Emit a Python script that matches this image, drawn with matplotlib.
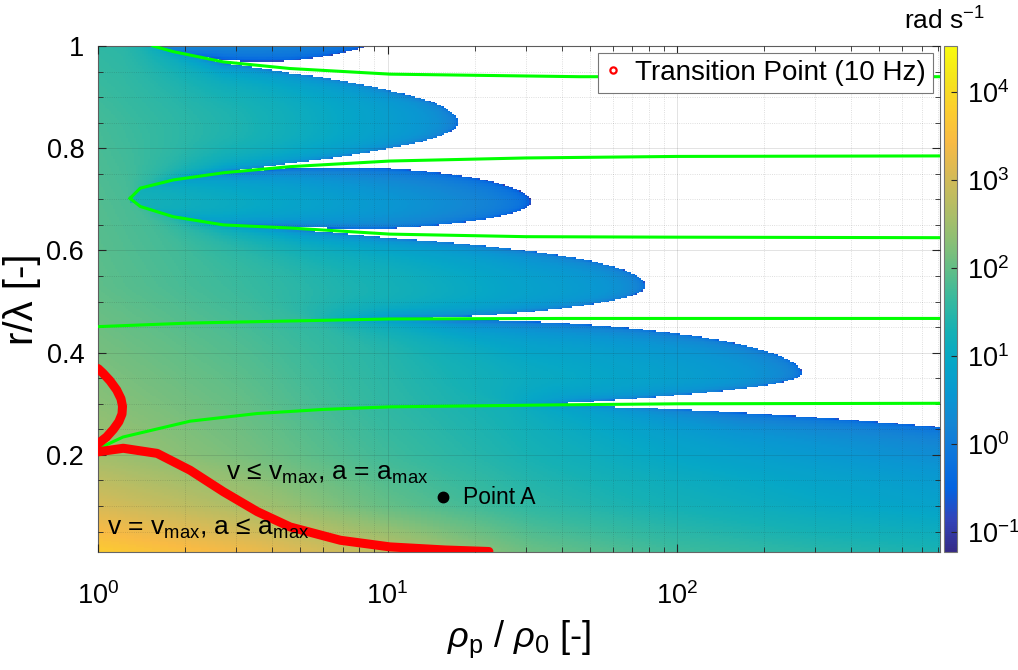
import numpy as np
import matplotlib
matplotlib.use("Agg")
import matplotlib.pyplot as plt
from matplotlib.colors import LinearSegmentedColormap, LogNorm
from matplotlib.lines import Line2D

plt.rcParams['font.family'] = ['Liberation Sans', 'DejaVu Sans']
plt.rcParams['mathtext.fontset'] = 'custom'
plt.rcParams['mathtext.rm'] = 'Liberation Sans'
plt.rcParams['mathtext.it'] = 'Liberation Sans:italic'
plt.rcParams['axes.unicode_minus'] = False

# ---- axes ranges / colour range ----
x_max = 810.0
y_min, y_max = 0.01, 1.0
c_min, c_max = 0.059, 3.3e4

# ---- green curves ----
green_a_x = [1.0, 1.22, 2.08, 3.55, 6.0, 10.2, 40.0, 100.0, 810.0]
green_a_y = [0.212, 0.235, 0.266, 0.281, 0.289, 0.294, 0.298, 0.300, 0.301]
green_b_x = [1.0, 2.08, 4.6, 10.2, 40.0, 100.0, 810.0]
green_b_y = [0.451, 0.458, 0.462, 0.466, 0.467, 0.467, 0.467]
green_c_x = [1.29, 1.40, 1.82, 2.71, 4.6, 10.2, 30.0, 100.0, 810.0]
green_c_y = [0.702, 0.686, 0.666, 0.650, 0.644, 0.632, 0.627, 0.626, 0.625]
green_d_x = [1.29, 1.40, 1.82, 2.71, 4.6, 10.2, 30.0, 100.0, 810.0]
green_d_y = [0.702, 0.722, 0.738, 0.752, 0.764, 0.775, 0.781, 0.784, 0.785]
green_e_x = [1.0, 1.26, 1.55, 1.82, 2.71, 4.6, 10.2, 46.0, 810.0]
green_e_y = [1.06, 1.03, 1.0, 0.989, 0.969, 0.956, 0.945, 0.940, 0.940]

# ---- red transition-point curves ----
red_top_x = [1.0, 1.04, 1.10, 1.16, 1.20, 1.215, 1.21, 1.18, 1.13, 1.07, 1.0]
red_top_y = [0.369, 0.360, 0.345, 0.327, 0.310, 0.295, 0.280, 0.265, 0.250, 0.235, 0.222]
red_bot_x = [1.0, 1.222, 1.6, 2.08, 2.71, 3.55, 4.61, 6.87, 10.2, 15.8, 22.4]
red_bot_y = [0.206, 0.213, 0.203, 0.170, 0.128, 0.089, 0.059, 0.033, 0.020, 0.014, 0.011]

point_a = (15.6, 0.117)

# ---- stable lobes: centre heights, tip positions, gap tips ----
lobe_y = [0.13, 0.36, 0.53, 0.695, 0.85, 1.12]
lobe_tip_x = [12600.0, 269.0, 77.6, 31.3, 17.6, 15.5]
lobe_shift = [0.0, 0.0, 0.0, -0.5, 0.0, -0.7]   # detached lobes sit lower
gap_tip_x = [25.7, 5.25, 1.32, 1.26, 1.2, 1.0]
gap_power = [3.0, 6.0, 6.0, 6.0, 6.0, 6.0]
gap_top_y = 1.25

# ---- colour field, log10(rad/s), read at a coarse set of points ----
tab_x = [1.0, 3.16, 10.0, 31.6, 100.0, 316.0, 810.0]
tab_y = [0.01, 0.1, 0.2, 0.3, 0.4, 0.53, 0.7, 0.85, 1.0]
tab_log = [
    [3.75, 3.35, 2.75, 2.05, 1.70, 1.50, 1.38],
    [3.05, 2.60, 2.00, 1.55, 1.25, 1.00, 0.85],
    [2.50, 2.15, 1.70, 1.30, 0.95, 0.70, 0.50],
    [2.30, 2.00, 1.55, 1.15, 0.85, 0.60, 0.45],
    [2.15, 1.85, 1.45, 0.95, 0.70, 0.50, 0.40],
    [1.95, 1.65, 1.25, 0.80, 0.55, 0.40, 0.30],
    [1.85, 1.50, 1.05, 0.65, 0.40, 0.30, 0.20],
    [1.75, 1.35, 0.75, 0.35, 0.20, 0.10, 0.10],
    [1.55, 1.30, 0.95, 0.50, 0.30, 0.20, 0.10]]

parula_rgb = [
    [0.2081, 0.1663, 0.5292], [0.1959, 0.2645, 0.7279], [0.0117, 0.3875, 0.8820],
    [0.0498, 0.4586, 0.8641], [0.0793, 0.5200, 0.8312], [0.0343, 0.5966, 0.8199],
    [0.0228, 0.6535, 0.7768], [0.0843, 0.6928, 0.7062], [0.2178, 0.7250, 0.6193],
    [0.3953, 0.7459, 0.5244], [0.5709, 0.7485, 0.4494], [0.7184, 0.7411, 0.3905],
    [0.8507, 0.7299, 0.3360], [0.9739, 0.7314, 0.2666], [0.9880, 0.8066, 0.1794],
    [0.9589, 0.8949, 0.1132], [0.9763, 0.9831, 0.0538]]
parula = LinearSegmentedColormap.from_list('parula', parula_rgb, N=256)

# ---- build the field ----
s_grid = np.linspace(0, np.log10(x_max), 430)
y_grid = np.linspace(y_min, y_max, 340)
S, Y = np.meshgrid(s_grid, y_grid)

greens = [(green_a_x, green_a_y), (green_b_x, green_b_y), (green_c_x, green_c_y),
          (green_d_x, green_d_y), (green_e_x, green_e_y)]
g = [np.interp(S, np.log10(gx), gy) for gx, gy in greens]
g[2] = np.minimum(g[2], lobe_y[3] - 0.004)
g[3] = np.maximum(g[3], lobe_y[3] + 0.004)

knots = []
for k in range(5):
    knots.append(np.full_like(S, lobe_y[k]))
    knots.append(g[k])
knots.append(np.full_like(S, lobe_y[5]))
knots.append(np.full_like(S, gap_top_y))
th_knots = np.arange(len(knots)) * 0.5 - 0.5

theta = np.where(Y < knots[0], -0.5, th_knots[-1])
for i in range(len(knots) - 1):
    lo, hi = knots[i], knots[i + 1]
    sel = (Y >= lo) & (Y < hi)
    theta = np.where(sel, th_knots[i] + 0.5 * (Y - lo) / (hi - lo), theta)

gap_idx = np.arange(len(gap_tip_x))
gt = np.interp(theta, gap_idx, np.log10(gap_tip_x))
pw = np.interp(theta, gap_idx, gap_power)
j = np.clip(np.floor(theta).astype(int), -1, 4)
ft = np.log10(lobe_tip_x)[j + 1]
t = np.clip((S - gt) / (ft - gt), 0, 1)
h = -1 + 2 * t ** pw
K = -np.cos(2 * np.pi * theta) - h

# coarse table -> grid (y first, then along x)
tab = np.array([[np.interp(yy, tab_y, np.array(tab_log)[:, c]) for c in range(len(tab_x))]
                for yy in y_grid])
L = np.array([np.interp(s_grid, np.log10(tab_x), row) for row in tab])

island = np.zeros_like(S)
loop_s = np.log10(green_c_x[0])
island = np.where((theta > 2) & (theta < 3) & (S > loop_s), lobe_shift[3], island)
island = np.where((theta > 4) & (S > np.log10(1.4)), lobe_shift[5], island)
L = L + island
L = L + 0.45 * np.log10(np.clip(K / 2, 1e-3, 1)) * np.clip(t / 0.3, 0, 1)
Z = np.ma.masked_where(K <= 0, 10 ** L)

# ---- figure ----
fig = plt.figure(figsize=(10.18, 6.70), dpi=100)
ax = fig.add_axes([0.0963, 0.1761, 0.8271, 0.7552])
norm = LogNorm(vmin=c_min, vmax=c_max)
mesh = ax.pcolormesh(10 ** s_grid, y_grid, Z, cmap=parula, norm=norm, shading='nearest')

for gx, gy in greens:
    ax.plot(gx, gy, color='#00ff00', lw=2.2, zorder=3)

ax.plot(red_top_x, red_top_y, color='red', lw=6.5, solid_capstyle='round', zorder=4)
ax.plot(red_bot_x, red_bot_y, color='red', lw=6.5, solid_capstyle='round', zorder=4)
ax.plot(*point_a, 'o', color='black', ms=7.5, zorder=5)

ax.text(18.2, 0.117, 'Point A', fontsize=16.5, va='center', ha='left', zorder=5)
ax.text(2.77, 0.151, r'v ≤ v$_{\mathrm{max}}$, a = a$_{\mathrm{max}}$', fontsize=19,
        va='baseline', ha='left', zorder=5)
ax.text(1.075, 0.043, r'v = v$_{\mathrm{max}}$, a ≤ a$_{\mathrm{max}}$', fontsize=19,
        va='baseline', ha='left', zorder=5)

ax.set_xscale('log')
ax.set_xlim(1, x_max)
ax.set_ylim(y_min, y_max)
ax.set_yticks([0.2, 0.4, 0.6, 0.8, 1.0])
ax.set_yticklabels(['0.2', '0.4', '0.6', '0.8', '1'])
ax.set_yticks(np.arange(0.05, 1.0, 0.05), minor=True)
ax.set_axisbelow(False)
ax.grid(True, which='major', color='#262626', alpha=0.15, lw=0.6)
ax.grid(True, which='minor', color='#262626', alpha=0.2, lw=0.6, ls=':')
ax.tick_params(which='both', direction='in', top=True, right=True, labelsize=19.5,
               color='#262626')
ax.tick_params(which='major', length=6, width=0.8)
ax.tick_params(which='minor', length=3.5, width=0.6)
ax.tick_params(axis='x', pad=22)
ax.tick_params(axis='y', pad=10)
for sp in ax.spines.values():
    sp.set_color('#666666')
    sp.set_linewidth(0.8)

ax.set_xlabel(r'$\rho_\mathrm{p}$ / $\rho_0$ [-]', fontsize=26, labelpad=6)
ax.set_ylabel(r'r/λ [-]', fontsize=29, labelpad=4)

handle = Line2D([], [], marker='o', ls='none', mfc='none', mec='red', ms=4.5, mew=1.6,
                label='Transition Point (10 Hz)')
leg = ax.legend(handles=[handle], loc='upper right', fontsize=20, frameon=True,
                fancybox=False, edgecolor='#777777', framealpha=1, borderpad=0.25,
                handlelength=0.6, handletextpad=0.5, borderaxespad=0.25)
leg.get_frame().set_linewidth(0.8)
leg.set_zorder(6)

cax = fig.add_axes([0.9273, 0.1761, 0.0128, 0.7552])
cb = fig.colorbar(mesh, cax=cax)
cb.ax.minorticks_off()
cb.set_ticks([1e-1, 1e0, 1e1, 1e2, 1e3, 1e4])
cb.ax.tick_params(direction='in', labelsize=19.5, length=4, color='#262626', pad=7)
cb.outline.set_edgecolor('#777777')
cb.outline.set_linewidth(0.8)
fig.text(0.928, 0.968, r'rad s$^{-1}$', fontsize=19, ha='center', va='center')

fig.savefig('out.png', dpi=100)
